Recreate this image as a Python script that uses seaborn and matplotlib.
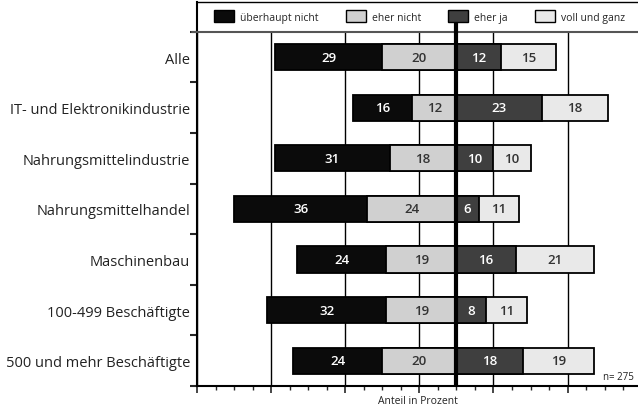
import matplotlib.pyplot as plt
import matplotlib.patches as mpatches
import matplotlib.ticker as mticker
import numpy as np
import pandas as pd
import seaborn as sns

sns.set_theme(style="white")
plt.rcParams["font.family"] = ["Open Sans", "DejaVu Sans"]

categories = [
    "Alle",
    "IT- und Elektronikindustrie",
    "Nahrungsmittelindustrie",
    "Nahrungsmittelhandel",
    "Maschinenbau",
    "100-499 Beschäftigte",
    "500 und mehr Beschäftigte",
]
ueberhaupt_nicht = [29, 16, 31, 36, 24, 32, 24]
eher_nicht = [20, 12, 18, 24, 19, 19, 20]
eher_ja = [12, 23, 10, 6, 16, 8, 18]
voll_und_ganz = [15, 18, 10, 11, 21, 11, 19]
legend_labels = ["überhaupt nicht", "eher nicht", "eher ja", "voll und ganz"]

C_UN = "#0b0b0b"
C_EN = "#d0d0d0"
C_EJ = "#3f3f3f"
C_VG = "#e9e9e9"

df = pd.DataFrame({
    "Gruppe": categories,
    "un": ueberhaupt_nicht,
    "en": eher_nicht,
    "ej": eher_ja,
    "vg": voll_und_ganz,
})
df["left_outer"] = -(df["un"] + df["en"])
df["left_inner"] = -df["en"]
df["right_outer"] = df["ej"] + df["vg"]
df["right_inner"] = df["ej"]

fig = plt.figure(figsize=(6.38, 4.10), dpi=100)
ax = fig.add_axes([197 / 638, 23 / 410, 1 - 197 / 638, 384 / 410])

# grid lines behind the bars
grid = [-70, -50, -30, -10, 10, 30, 50]
ax.vlines(grid, -0.5, 6.5, color="black", linewidth=1.0, zorder=0)

bar_kw = dict(orient="h", order=categories, edgecolor="black", linewidth=1.3, width=0.52, ax=ax)
sns.barplot(data=df, x="left_outer", y="Gruppe", color=C_UN, saturation=1, **bar_kw)
sns.barplot(data=df, x="left_inner", y="Gruppe", color=C_EN, saturation=1, **bar_kw)
sns.barplot(data=df, x="right_outer", y="Gruppe", color=C_VG, saturation=1, **bar_kw)
sns.barplot(data=df, x="right_inner", y="Gruppe", color=C_EJ, saturation=1, **bar_kw)

# value labels
for i, row in df.iterrows():
    segs = [
        (row["left_outer"], row["left_inner"], row["un"], "white"),
        (row["left_inner"], 0, row["en"], "#333333"),
        (0, row["right_inner"], row["ej"], "white"),
        (row["right_inner"], row["right_outer"], row["vg"], "#333333"),
    ]
    for x0, x1, val, col in segs:
        ax.text((x0 + x1) / 2, i, f"{val}", ha="center", va="center",
                fontsize=9.5, fontweight="semibold", color=col, zorder=6)

# thick zero line
ax.vlines(0, -0.75, 6.5, color="black", linewidth=3, zorder=5)
# separator under the legend band
ax.axhline(-0.5, xmin=-0.012, xmax=1, color="#555555", linewidth=1.5, clip_on=False, zorder=4)

ax.set_xlim(-70, 49)
ax.set_ylim(6.5, -1.09)

ax.xaxis.set_major_locator(mticker.FixedLocator(grid))
ax.xaxis.set_minor_locator(mticker.MultipleLocator(5))
ax.tick_params(axis="x", which="major", length=5, width=1.2, direction="out", labelbottom=False, bottom=True)
ax.tick_params(axis="x", which="minor", length=3, width=1, direction="out", bottom=True)

ax.set_yticks(range(len(categories)))
ax.set_yticklabels(categories, fontsize=10.5, color="#222222")
ax.yaxis.set_minor_locator(mticker.FixedLocator(np.arange(-0.5, 7, 1)))
ax.tick_params(axis="y", which="major", length=0, pad=5)
ax.tick_params(axis="y", which="minor", length=5, width=1.5, direction="out", left=True)

ax.set_ylabel("")
ax.set_xlabel("")
fig.text(0.5 * (197 + 638) / 638, 1 - 402 / 410, "Anteil in Prozent", ha="center", va="center",
         fontsize=7.5, color="#222222")

for side in ["left", "bottom"]:
    ax.spines[side].set_color("black")
    ax.spines[side].set_linewidth(1.5)
ax.spines["top"].set_color("black")
ax.spines["top"].set_linewidth(1.0)
ax.spines["right"].set_visible(False)

handles = [mpatches.Patch(facecolor=c, edgecolor="black", linewidth=1.0)
           for c in [C_UN, C_EN, C_EJ, C_VG]]
ax.legend(handles, legend_labels, loc="center", bbox_to_anchor=(0.505, 0.962), ncol=4,
          frameon=False, fontsize=7.5, handlelength=1.9, handleheight=1.4,
          handletextpad=0.6, columnspacing=2.6)

ax.text(48, 6.42, "n= 275", ha="right", va="bottom", fontsize=7, color="#222222")

fig.savefig("out.png", dpi=100)
